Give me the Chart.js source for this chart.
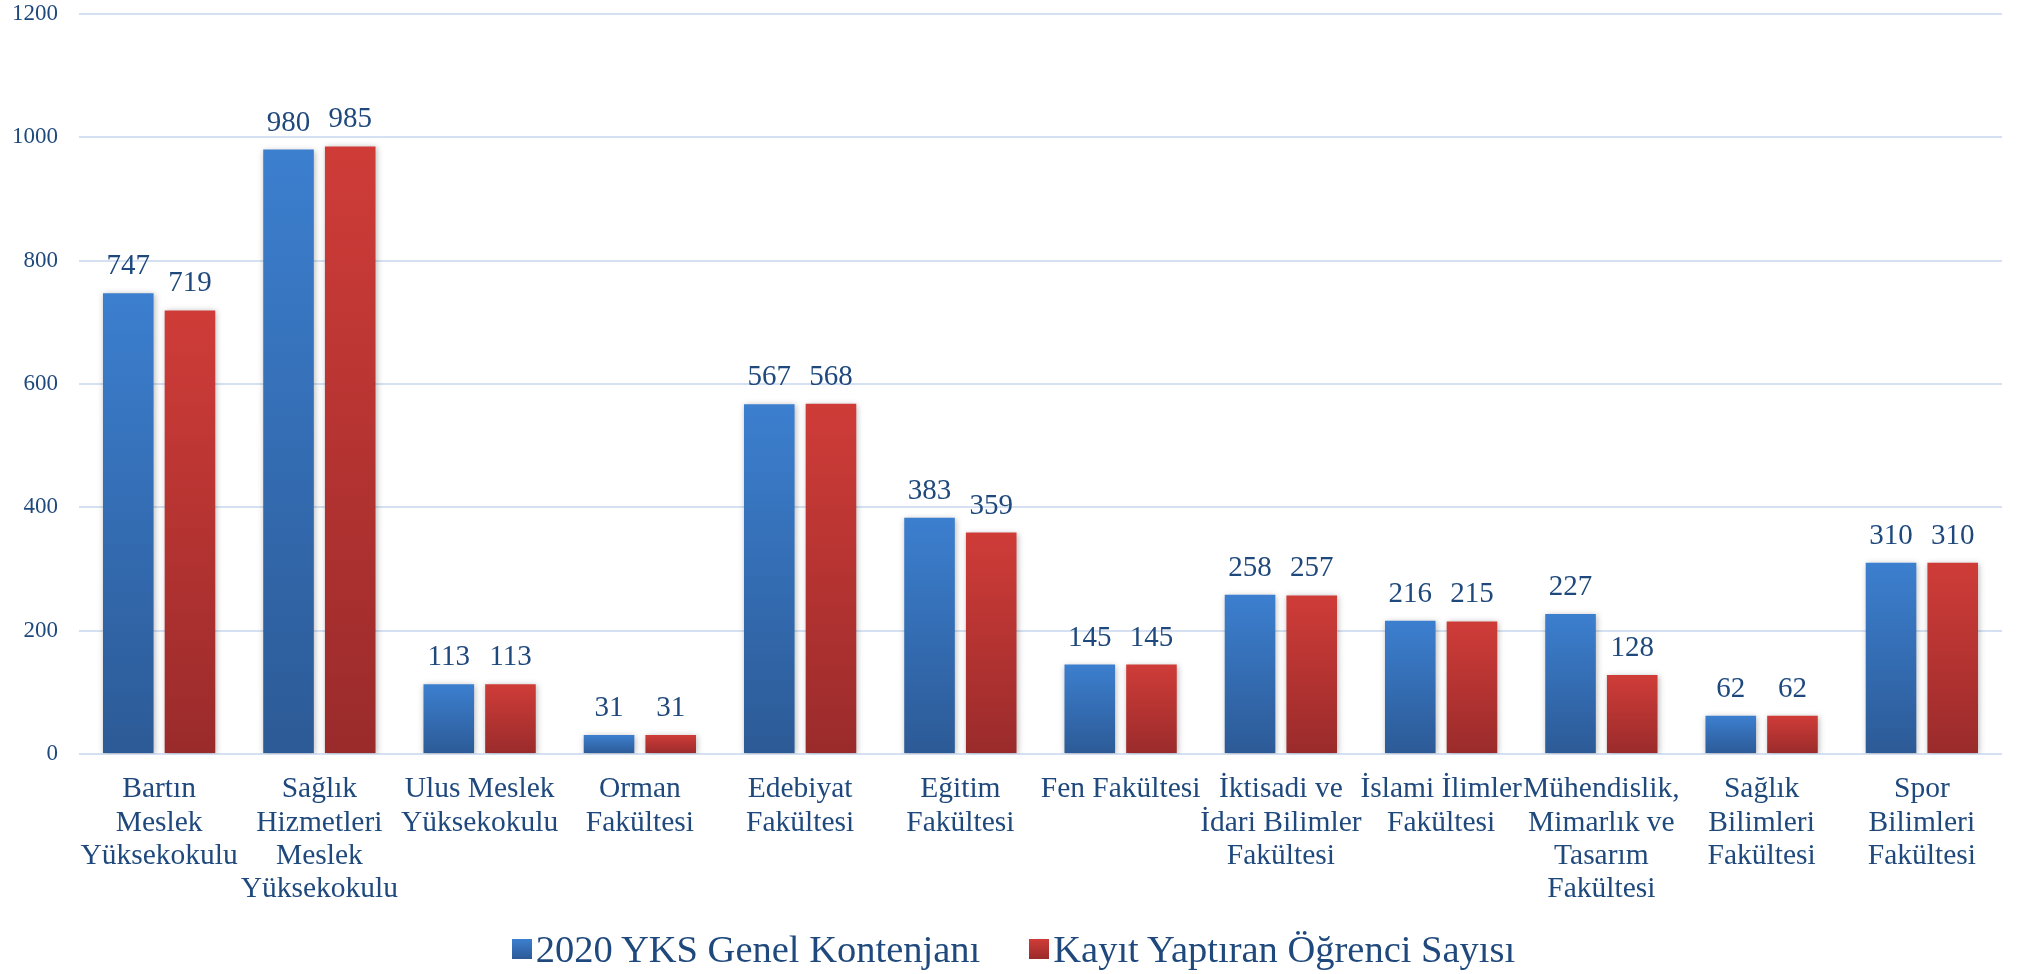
<!DOCTYPE html>
<html lang="tr">
<head>
    <meta charset="UTF-8">
    <title>YKS Kontenjan ve Kayıt</title>
    <script src="https://cdn.jsdelivr.net/npm/chart.js@4"></script>
    <style>
        body {
            margin: 0;
            background: #ffffff;
        }
        .wrap {
            position: relative;
            width: 2027px;
            height: 974px;
        }
        .legend {
            position: absolute;
            left: 0;
            top: 930px;
            width: 2027px;
            display: flex;
            justify-content: center;
            font-family: "Liberation Serif", "Times New Roman", "DejaVu Serif", serif;
            font-size: 38.5px;
            line-height: 38px;
            color: #1F497D;
        }
        .legend .item {
            display: flex;
            align-items: center;
        }
        .legend .item + .item {
            margin-left: 49px;
        }
        .legend .box {
            width: 20px;
            height: 20px;
            margin-right: 4px;
        }
    </style>
</head>
<body>
    <div class="wrap">
        <canvas id="chart"></canvas>
        <div class="legend" id="legend"></div>
    </div>

    <script>
        // Data
        const categories = [
            ['Bartın', 'Meslek', 'Yüksekokulu'],
            ['Sağlık', 'Hizmetleri', 'Meslek', 'Yüksekokulu'],
            ['Ulus Meslek', 'Yüksekokulu'],
            ['Orman', 'Fakültesi'],
            ['Edebiyat', 'Fakültesi'],
            ['Eğitim', 'Fakültesi'],
            ['Fen Fakültesi'],
            ['İktisadi ve', 'İdari Bilimler', 'Fakültesi'],
            ['İslami İlimler', 'Fakültesi'],
            ['Mühendislik,', 'Mimarlık ve', 'Tasarım', 'Fakültesi'],
            ['Sağlık', 'Bilimleri', 'Fakültesi'],
            ['Spor', 'Bilimleri', 'Fakültesi']
        ];
        const kontenjan = [747, 980, 113, 31, 567, 383, 145, 258, 216, 227, 62, 310];
        const kayit = [719, 985, 113, 31, 568, 359, 145, 257, 215, 128, 62, 310];
        const seriesNames = ['2020 YKS Genel Kontenjanı', 'Kayıt Yaptıran Öğrenci Sayısı'];
        const yTicks = [0, 200, 400, 600, 800, 1000, 1200];

        const fontFamily = '"Liberation Serif", "Times New Roman", "DejaVu Serif", serif';
        const textColor = '#1F497D';
        const blue = ['#3C7FCF', '#2C5A96'];
        const red = ['#CF3C38', '#9A2B2B'];

        // gradient per bar, from its top to the zero line
        function barGradient(colors) {
            return function(c) {
                const chart = c.chart;
                if (!chart.chartArea || c.raw === undefined) return colors[0];
                const y = chart.scales.y;
                const top = y.getPixelForValue(c.raw);
                const bottom = y.getPixelForValue(0);
                const g = chart.ctx.createLinearGradient(0, top, 0, bottom + 0.01);
                g.addColorStop(0, colors[0]);
                g.addColorStop(1, colors[1]);
                return g;
            };
        }

        const shadowPlugin = {
            id: 'barShadow',
            beforeDatasetsDraw(chart) {
                const ctx = chart.ctx;
                ctx.save();
                ctx.shadowColor = 'rgba(0,0,0,0.28)';
                ctx.shadowBlur = 6;
                ctx.shadowOffsetX = 1;
                ctx.shadowOffsetY = 1;
            },
            afterDatasetsDraw(chart) {
                chart.ctx.restore();
            }
        };

        const valueLabels = {
            id: 'valueLabels',
            afterDraw(chart) {
                const ctx = chart.ctx;
                ctx.save();
                ctx.font = '29px ' + fontFamily;
                ctx.fillStyle = textColor;
                ctx.textAlign = 'center';
                ctx.textBaseline = 'alphabetic';
                chart.data.datasets.forEach((ds, i) => {
                    chart.getDatasetMeta(i).data.forEach((bar, j) => {
                        ctx.fillText(String(ds.data[j]), bar.x, bar.y - 19);
                    });
                });
                ctx.restore();
            }
        };

        const ctx = document.getElementById('chart').getContext('2d');
        const chart = new Chart(ctx, {
            type: 'bar',
            data: {
                labels: categories,
                datasets: [{
                    label: seriesNames[0],
                    data: kontenjan,
                    backgroundColor: barGradient(blue),
                    categoryPercentage: 0.77,
                    barPercentage: 0.82
                }, {
                    label: seriesNames[1],
                    data: kayit,
                    backgroundColor: barGradient(red),
                    categoryPercentage: 0.77,
                    barPercentage: 0.82
                }]
            },
            options: {
                responsive: true,
                maintainAspectRatio: false,
                animation: false,
                layout: {
                    padding: { left: 0, right: 25, top: 0, bottom: 0 }
                },
                plugins: {
                    legend: { display: false },
                    tooltip: { enabled: false }
                },
                scales: {
                    x: {
                        grid: { display: false },
                        border: { display: false },
                        ticks: {
                            color: textColor,
                            font: { family: fontFamily, size: 29.5, lineHeight: 1.13 },
                            padding: 11,
                            maxRotation: 0,
                            autoSkip: false
                        },
                        afterFit(scale) { scale.height = 220; }
                    },
                    y: {
                        min: 0,
                        max: 1200,
                        afterBuildTicks(scale) {
                            scale.ticks = yTicks.map(v => ({ value: v }));
                        },
                        grid: {
                            color: '#D5E1F2',
                            lineWidth: 2,
                            drawTicks: true,
                            tickLength: 21,
                            tickColor: 'rgba(0,0,0,0)'
                        },
                        border: { display: false },
                        ticks: {
                            color: textColor,
                            font: { family: fontFamily, size: 23 },
                            padding: 0,
                            callback: v => String(v)
                        },
                        afterFit(scale) { scale.width = 79; }
                    }
                }
            },
            plugins: [shadowPlugin, valueLabels]
        });

        // HTML legend
        const legend = document.getElementById('legend');
        [blue, red].forEach((colors, i) => {
            const item = document.createElement('div');
            item.className = 'item';
            const box = document.createElement('span');
            box.className = 'box';
            box.style.background = 'linear-gradient(' + colors[0] + ', ' + colors[1] + ')';
            const text = document.createElement('span');
            text.textContent = seriesNames[i];
            item.appendChild(box);
            item.appendChild(text);
            legend.appendChild(item);
        });
    </script>
</body>
</html>
